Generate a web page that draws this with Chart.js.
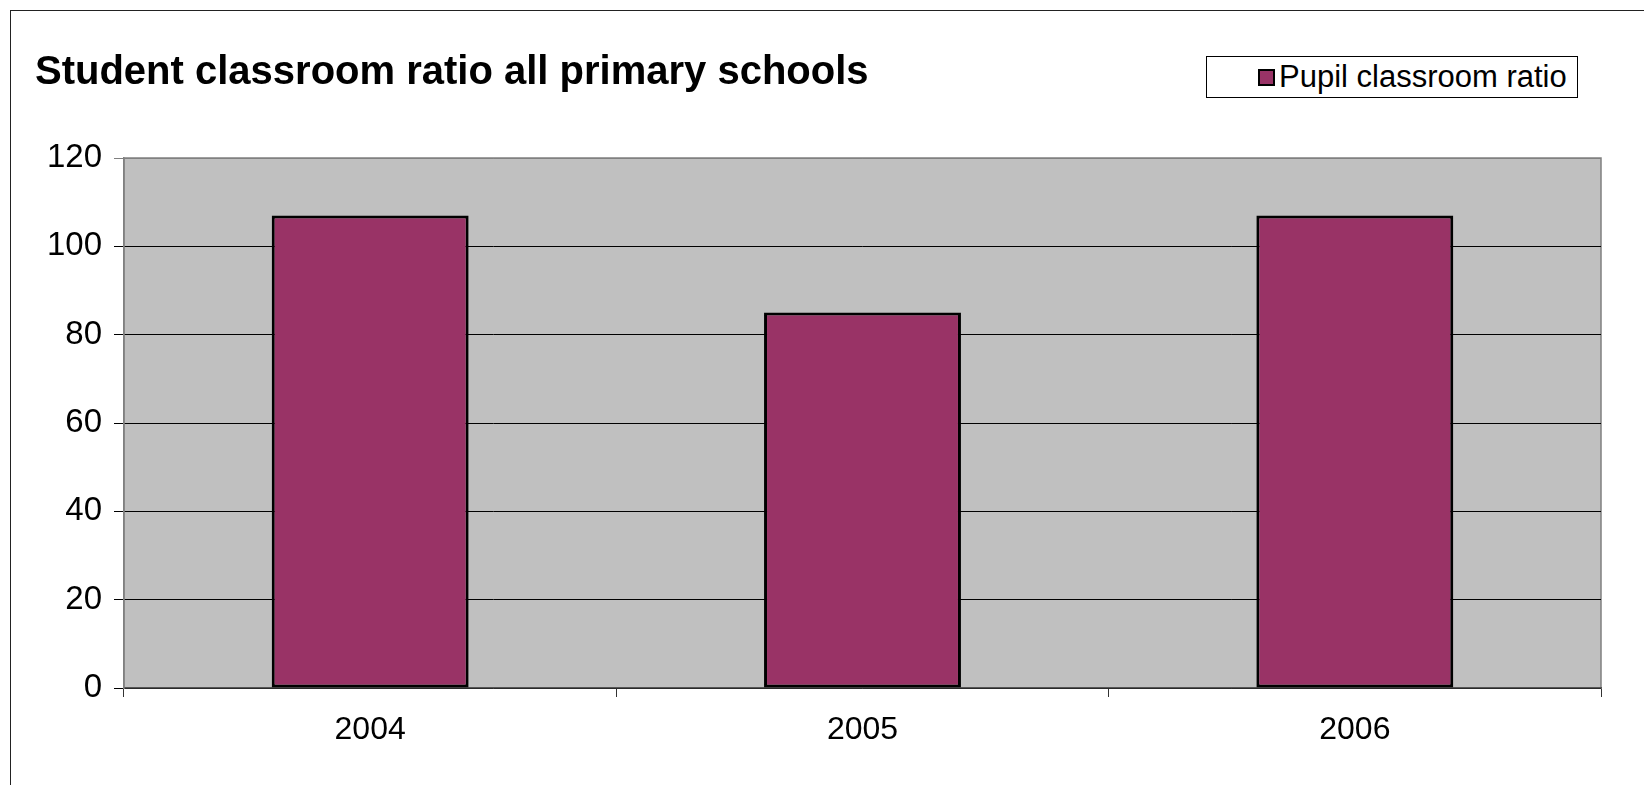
<!DOCTYPE html>
<html>
<head>
<meta charset="utf-8">
<script src="https://cdn.jsdelivr.net/npm/chart.js@4/dist/chart.umd.min.js"></script>
<style>
  body { margin: 0; background: #fff; overflow: hidden; }
  #wrap { position: relative; width: 1644px; height: 785px; }
  #frame { position: absolute; left: 10px; top: 10px; width: 1700px; height: 900px; border: 1.5px solid #222; }
  #legend {
    position: absolute; left: 1206px; top: 56px; width: 372px; height: 42px;
    border: 1px solid #000; background: #fff;
    font-family: "Liberation Sans", Arial, sans-serif; font-size: 31px; color: #000;
    display: flex; align-items: center; box-sizing: border-box;
  }
  #legend .box { width: 13px; height: 13px; border: 2px solid #000; margin-left: 51px; margin-right: 4px; }
  canvas { position: absolute; left: 0; top: 0; }
</style>
</head>
<body>
<div id="wrap">
  <div id="frame"></div>
  <canvas id="chart" width="1644" height="785"></canvas>
  <div id="legend"><span class="box"></span><span class="txt"></span></div>
</div>
<script>
// données
const years = ['2004', '2005', '2006'];
const ratioValues = [107, 85, 107];
const seriesName = 'Pupil classroom ratio';
const chartTitle = 'Student classroom ratio all primary schools';
const barColor = '#993366';

// légende en HTML (encadrée, en haut à droite)
document.querySelector('#legend .box').style.background = barColor;
document.querySelector('#legend .txt').textContent = seriesName;

// fond gris de la zone de tracé
const plotBackground = {
    id: 'plotBackground',
    beforeDraw(chart) {
        const { ctx, chartArea: a } = chart;
        ctx.save();
        ctx.fillStyle = '#C0C0C0';
        ctx.fillRect(a.left, a.top, a.right - a.left, a.bottom - a.top);
        ctx.strokeStyle = '#808080';
        ctx.lineWidth = 1.5;
        ctx.strokeRect(a.left, a.top, a.right - a.left, a.bottom - a.top);
        ctx.restore();
    }
};

const font = "'Liberation Sans', Arial, sans-serif";

const ratioChart = new Chart(document.getElementById('chart').getContext('2d'), {
    type: 'bar',
    data: {
        labels: years,
        datasets: [{
            label: seriesName,
            data: ratioValues,
            backgroundColor: barColor,
            borderColor: '#000',
            borderWidth: 3,
            borderSkipped: false,
            categoryPercentage: 1,
            barPercentage: 0.4
        }]
    },
    options: {
        responsive: false,
        animation: false,
        layout: { padding: { left: 35, right: 43, top: 45, bottom: 0 } },
        plugins: {
            legend: { display: false },
            tooltip: { enabled: false },
            title: {
                display: true,
                text: chartTitle,
                align: 'start',
                color: '#000',
                font: { family: font, size: 40, weight: 'bold' },
                padding: { top: 4, bottom: 61 }
            }
        },
        scales: {
            x: {
                grid: { display: true, drawOnChartArea: false, tickLength: 9, color: '#333', offset: true },
                border: { color: '#555', width: 1.5 },
                ticks: { color: '#000', font: { family: font, size: 32 }, padding: 14 },
                afterFit(scale) { scale.height = 97; }
            },
            y: {
                min: 0,
                max: 120,
                ticks: { stepSize: 20, color: '#000', font: { family: font, size: 33 }, padding: 12 },
                grid: {
                    tickLength: 10,
                    lineWidth: 1,
                    color: (c) => c.tick && c.tick.value === 120 ? '#808080' : '#000'
                },
                border: { color: '#808080', width: 1.5 },
                afterFit(scale) { scale.width = 89; }
            }
        }
    },
    plugins: [plotBackground]
});
</script>
</body>
</html>
